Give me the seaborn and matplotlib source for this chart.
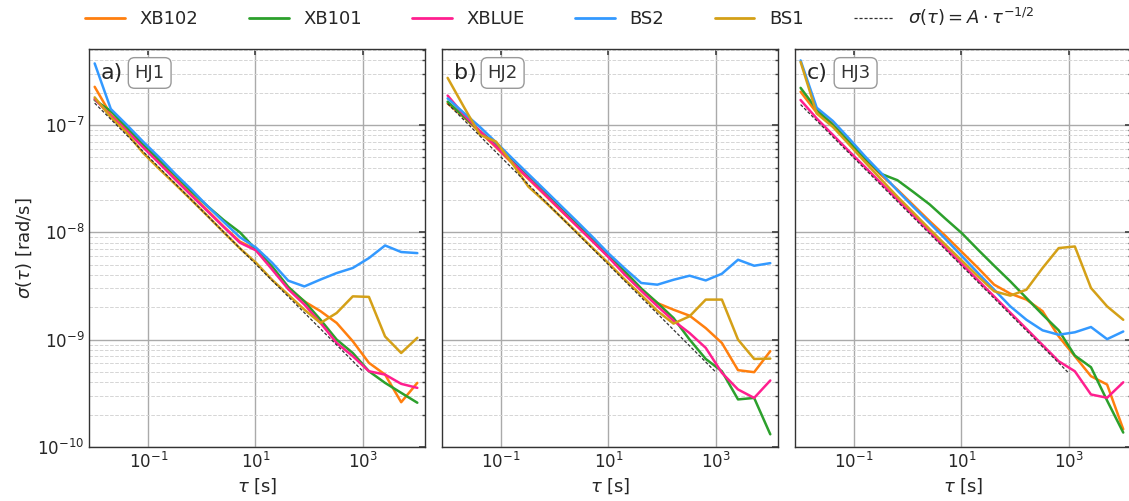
import numpy as np
import pandas as pd
import seaborn as sns
import matplotlib.pyplot as plt
from matplotlib.lines import Line2D
from matplotlib.ticker import FixedLocator, LogLocator, LogFormatterSciNotation, NullLocator, NullFormatter

# averaging times [s]
tau = [0.01, 0.02, 0.04, 0.08, 0.16, 0.32, 0.64, 1.28, 2.56, 5.12, 10.24,
       20.48, 40.96, 81.92, 163.84, 327.68, 655.36, 1310.72, 2621.44, 5242.88, 10485.76]

sensors = ['XB102', 'XB101', 'XBLUE', 'BS2', 'BS1']
colors = ['#ff7f0e', '#2ca02c', '#ff1f8f', '#3399ff', '#d4a017']
panels = ['HJ1', 'HJ2', 'HJ3']
panel_tags = ['a)', 'b)', 'c)']

# ---- HJ1 ----
xb102_hj1 = [2.27e-7, 1.25e-7, 9.1e-8, 6.3e-8, 4.5e-8, 3.2e-8, 2.25e-8, 1.6e-8, 1.13e-8, 8.2e-9, 6.9e-9,
             4.7e-9, 3.0e-9, 2.27e-9, 1.84e-9, 1.43e-9, 9.65e-10, 6.07e-10, 4.72e-10, 2.61e-10, 3.95e-10]
xb101_hj1 = [1.71e-7, 1.35e-7, 9.5e-8, 6.6e-8, 4.7e-8, 3.4e-8, 2.4e-8, 1.75e-8, 1.3e-8, 1.0e-8, 6.9e-9,
             4.8e-9, 3.1e-9, 2.27e-9, 1.53e-9, 1.0e-9, 7.5e-10, 5.07e-10, 3.95e-10, 3.19e-10, 2.58e-10]
xblue_hj1 = [1.75e-7, 1.22e-7, 8.8e-8, 6.2e-8, 4.4e-8, 3.1e-8, 2.2e-8, 1.57e-8, 1.12e-8, 8.0e-9, 6.78e-9,
             4.5e-9, 2.95e-9, 2.12e-9, 1.43e-9, 9.3e-10, 7.0e-10, 5.07e-10, 4.72e-10, 3.87e-10, 3.55e-10]
bs2_hj1 = [3.75e-7, 1.41e-7, 1.0e-7, 7.0e-8, 5.0e-8, 3.5e-8, 2.5e-8, 1.75e-8, 1.25e-8, 9.0e-9, 7.2e-9,
           5.2e-9, 3.54e-9, 3.13e-9, 3.63e-9, 4.17e-9, 4.65e-9, 5.75e-9, 7.54e-9, 6.55e-9, 6.4e-9]
bs1_hj1 = [1.81e-7, 1.18e-7, 8.4e-8, 5.5e-8, 3.9e-8, 2.8e-8, 2.0e-8, 1.42e-8, 1.0e-8, 7.1e-9, 5.2e-9,
           3.6e-9, 2.62e-9, 1.9e-9, 1.43e-9, 1.77e-9, 2.53e-9, 2.5e-9, 1.07e-9, 7.5e-10, 1.04e-9]

# ---- HJ2 ----
xb102_hj2 = [1.59e-7, 1.18e-7, 8.6e-8, 6.2e-8, 4.4e-8, 3.15e-8, 2.25e-8, 1.6e-8, 1.15e-8, 8.2e-9, 5.9e-9,
             4.1e-9, 2.92e-9, 2.19e-9, 1.9e-9, 1.67e-9, 1.28e-9, 9.3e-10, 5.19e-10, 4.97e-10, 7.8e-10]
xb101_hj2 = [1.65e-7, 1.2e-7, 8.8e-8, 6.5e-8, 4.6e-8, 3.3e-8, 2.35e-8, 1.68e-8, 1.2e-8, 8.6e-9, 6.1e-9,
             4.3e-9, 3.0e-9, 2.2e-9, 1.59e-9, 1.0e-9, 6.6e-10, 5.07e-10, 2.77e-10, 2.86e-10, 1.31e-10]
xblue_hj2 = [1.88e-7, 1.25e-7, 8.8e-8, 6.3e-8, 4.5e-8, 3.2e-8, 2.28e-8, 1.62e-8, 1.15e-8, 8.2e-9, 5.8e-9,
             4.0e-9, 2.85e-9, 2.05e-9, 1.5e-9, 1.15e-9, 8.37e-10, 4.9e-10, 3.43e-10, 2.86e-10, 4.16e-10]
bs2_hj2 = [1.77e-7, 1.3e-7, 9.6e-8, 6.9e-8, 4.9e-8, 3.5e-8, 2.5e-8, 1.78e-8, 1.27e-8, 9.0e-9, 6.3e-9,
           4.57e-9, 3.37e-9, 3.25e-9, 3.61e-9, 3.94e-9, 3.56e-9, 4.11e-9, 5.55e-9, 4.88e-9, 5.16e-9]
bs1_hj2 = [2.75e-7, 1.48e-7, 8.1e-8, 7.0e-8, 4.4e-8, 2.67e-8, 1.95e-8, 1.4e-8, 1.0e-8, 7.1e-9, 5.1e-9,
           3.6e-9, 2.6e-9, 1.85e-9, 1.41e-9, 1.65e-9, 2.36e-9, 2.36e-9, 1.0e-9, 6.6e-10, 6.65e-10]

# ---- HJ3 ----
xb102_hj3 = [2.04e-7, 1.3e-7, 1.04e-7, 7.0e-8, 4.8e-8, 3.4e-8, 2.5e-8, 1.78e-8, 1.27e-8, 9.2e-9, 6.54e-9,
             4.65e-9, 3.25e-9, 2.68e-9, 2.36e-9, 1.84e-9, 1.07e-9, 7.0e-10, 4.56e-10, 3.81e-10, 1.46e-10]
xb101_hj3 = [2.22e-7, 1.4e-7, 1.0e-7, 7.0e-8, 4.9e-8, 3.5e-8, 3.06e-8, 2.37e-8, 1.82e-8, 1.33e-8, 9.8e-9,
             6.88e-9, 4.88e-9, 3.49e-9, 2.44e-9, 1.71e-9, 1.22e-9, 7.1e-10, 5.53e-10, 2.7e-10, 1.36e-10]
xblue_hj3 = [1.71e-7, 1.15e-7, 8.1e-8, 5.7e-8, 4.05e-8, 2.86e-8, 2.02e-8, 1.43e-8, 1.01e-8, 7.1e-9, 5.05e-9,
             3.57e-9, 2.52e-9, 1.78e-9, 1.26e-9, 8.9e-10, 6.28e-10, 5.07e-10, 3.08e-10, 2.87e-10, 4.0e-10]
bs2_hj3 = [4.0e-7, 1.45e-7, 1.09e-7, 7.5e-8, 5.1e-8, 3.56e-8, 2.45e-8, 1.72e-8, 1.22e-8, 8.6e-9, 6.0e-9,
           4.17e-9, 2.92e-9, 2.04e-9, 1.53e-9, 1.22e-9, 1.11e-9, 1.17e-9, 1.31e-9, 1.01e-9, 1.19e-9]
bs1_hj3 = [3.88e-7, 1.28e-7, 9.6e-8, 6.6e-8, 4.5e-8, 3.1e-8, 2.15e-8, 1.52e-8, 1.07e-8, 7.6e-9, 5.43e-9,
           3.88e-9, 2.82e-9, 2.57e-9, 2.92e-9, 4.65e-9, 7.13e-9, 7.38e-9, 3.03e-9, 2.04e-9, 1.53e-9]

# white-noise fit sigma = A * tau^-1/2 (end points)
fit_tau = [0.01, 1000]
fit_hj1 = [1.6e-7, 5.1e-10]
fit_hj2 = [1.58e-7, 5.0e-10]
fit_hj3 = [1.55e-7, 4.9e-10]

series = {
    'HJ1': [xb102_hj1, xb101_hj1, xblue_hj1, bs2_hj1, bs1_hj1],
    'HJ2': [xb102_hj2, xb101_hj2, xblue_hj2, bs2_hj2, bs1_hj2],
    'HJ3': [xb102_hj3, xb101_hj3, xblue_hj3, bs2_hj3, bs1_hj3],
}
fits = {'HJ1': fit_hj1, 'HJ2': fit_hj2, 'HJ3': fit_hj3}

# long table for seaborn
rows = []
for p in panels:
    for s, vals in zip(sensors, series[p]):
        for t, v in zip(tau, vals):
            rows.append({'panel': p, 'sensor': s, 'tau': t, 'sigma': v})
df = pd.DataFrame(rows)

sns.set_theme(style='white')
plt.rcParams['font.family'] = ['DejaVu Sans']
plt.rcParams['mathtext.fontset'] = 'dejavusans'

fig, axes = plt.subplots(1, 3, figsize=(11.29, 5.01), dpi=100, sharey=True)
fig.subplots_adjust(left=0.079, right=1.002, bottom=0.108, top=0.902, wspace=0.05)

palette = dict(zip(sensors, colors))
for ax, p, tag in zip(axes, panels, panel_tags):
    sns.lineplot(data=df[df.panel == p], x='tau', y='sigma', hue='sensor', hue_order=sensors,
                 palette=palette, estimator=None, sort=False, linewidth=1.8, legend=False, ax=ax)
    fit_df = pd.DataFrame({'tau': fit_tau, 'sigma': fits[p]})
    sns.lineplot(data=fit_df, x='tau', y='sigma', color='#333333', linewidth=0.9,
                 linestyle=(0, (2.5, 1.5)), ax=ax, zorder=5)
    ax.set_xscale('log')
    ax.set_yscale('log')
    ax.set_xlim(0.0079, 14800)
    ax.set_ylim(1e-10, 5.1e-7)

    ax.xaxis.set_major_locator(FixedLocator([1e-1, 1e1, 1e3]))
    ax.xaxis.set_major_formatter(LogFormatterSciNotation())
    ax.xaxis.set_minor_locator(NullLocator())
    ax.yaxis.set_major_locator(LogLocator(base=10, numticks=10))
    ax.yaxis.set_minor_locator(LogLocator(base=10, subs=np.arange(2, 10), numticks=20))
    ax.yaxis.set_minor_formatter(NullFormatter())

    ax.grid(True, which='major', axis='both', color='#aaaaaa', linewidth=1.0, linestyle='-')
    ax.grid(True, which='minor', axis='y', color='#d5d5d5', linewidth=0.7, linestyle='--')
    ax.set_axisbelow(True)
    ax.tick_params(which='both', direction='in', top=True, right=True, labelsize=12)
    ax.tick_params(which='major', length=4, color='#444444')
    ax.tick_params(which='minor', length=2.5, color='#444444')
    for sp in ax.spines.values():
        sp.set_color('#333333')
        sp.set_linewidth(1.0)

    ax.set_xlabel(r'$\tau$ [s]', fontsize=13, labelpad=3)
    ax.set_ylabel('')
    ax.text(0.035, 0.965, tag, transform=ax.transAxes, fontsize=16, va='top', ha='left', zorder=10)
    ax.text(0.18, 0.94, p, transform=ax.transAxes, fontsize=13, va='center', ha='center', color='#333333',
            zorder=10, bbox=dict(boxstyle='round,pad=0.35', facecolor='white', edgecolor='#999999', linewidth=1))

axes[0].set_ylabel(r'$\sigma(\tau)$ [rad/s]', fontsize=13, labelpad=2)
for ax in axes[1:]:
    ax.tick_params(labelleft=False)

handles = [Line2D([], [], color=c, linewidth=2) for c in colors]
handles.append(Line2D([], [], color='#333333', linewidth=0.9, linestyle=(0, (2.5, 1.5))))
labels = sensors + [r'$\sigma(\tau) = A \cdot \tau^{-1/2}$']
fig.legend(handles, labels, loc='upper center', bbox_to_anchor=(0.496, 1.02), ncol=6, frameon=False,
           fontsize=13, handlelength=2.2, columnspacing=2.8)

fig.savefig('out.png', dpi=100)
